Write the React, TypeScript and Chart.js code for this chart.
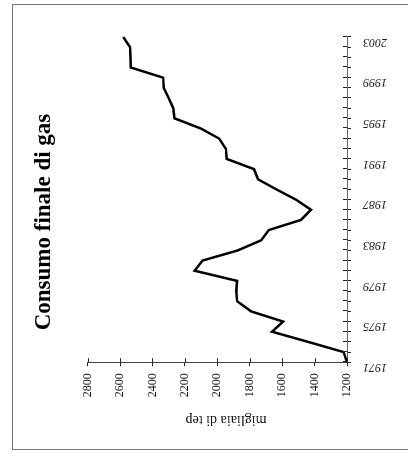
import React, { useEffect, useRef } from "react";
import { Chart, registerables } from "chart.js";

Chart.register(...registerables);

// ---- data ----
const YEARS: string[] = [
  "1971", "1972", "1973", "1974", "1975", "1976", "1977", "1978", "1979", "1980",
  "1981", "1982", "1983", "1984", "1985", "1986", "1987", "1988", "1989", "1990",
  "1991", "1992", "1993", "1994", "1995", "1996", "1997", "1998", "1999", "2000",
  "2001", "2002", "2003",
];
const CONSUMPTION: number[] = [
  1200, 1221, 1440, 1662, 1594, 1791, 1878, 1883, 1878, 2140,
  2092, 1874, 1729, 1683, 1484, 1422, 1515, 1635, 1749, 1774,
  1942, 1947, 1988, 2102, 2264, 2272, 2300, 2331, 2334, 2534,
  2536, 2538, 2580,
];
const VALUE_MIN = 1200;
const VALUE_MAX = 2800;
const VALUE_STEP = 200;
const YEAR_LABEL_EVERY = 4;
const TITLE = "Consumo finale di gas";
const AXIS_TITLE = "migliaia di tep";

// original (unrotated) canvas size
const W = 436;
const H = 394;

const SERIF = "'Liberation Serif', 'Times New Roman', serif";

const crossTicks = {
  id: "crossTicks",
  afterDatasetsDraw(chart: any) {
    const { ctx, chartArea, scales } = chart;
    ctx.save();
    ctx.strokeStyle = "#222";
    ctx.lineWidth = 1;
    const xs = scales.x;
    xs.ticks.forEach((_: any, i: number) => {
      const p = Math.round(xs.getPixelForTick(i)) + 0.5;
      ctx.beginPath();
      ctx.moveTo(p, chartArea.bottom);
      ctx.lineTo(p, chartArea.bottom - 4);
      ctx.stroke();
    });
    const ys = scales.y;
    ys.ticks.forEach((_: any, i: number) => {
      const p = Math.round(ys.getPixelForTick(i)) + 0.5;
      ctx.beginPath();
      ctx.moveTo(chartArea.left, p);
      ctx.lineTo(chartArea.left + 4, p);
      ctx.stroke();
    });
    ctx.restore();
  },
};

export default function App() {
  const ref = useRef<HTMLCanvasElement | null>(null);

  useEffect(() => {
    if (!ref.current) return;
    const chart = new Chart(ref.current, {
      type: "line",
      data: {
        labels: YEARS,
        datasets: [
          {
            data: CONSUMPTION,
            borderColor: "#000",
            borderWidth: 2.5,
            pointRadius: 0,
            tension: 0,
            fill: false,
          },
        ],
      },
      options: {
        animation: false,
        responsive: false,
        maintainAspectRatio: false,
        layout: { padding: { left: 0, right: 0, top: 0, bottom: 7 } },
        plugins: {
          legend: { display: false },
          tooltip: { enabled: false },
          title: {
            display: true,
            text: TITLE,
            color: "#000",
            font: { family: SERIF, size: 23, weight: "bold" },
            padding: { top: 18, bottom: 30 },
          },
        },
        scales: {
          x: {
            type: "category",
            grid: {
              display: true,
              drawOnChartArea: false,
              drawTicks: true,
              tickLength: 4,
              color: "#222",
            },
            border: { display: true, color: "#666", width: 1 },
            ticks: {
              autoSkip: false,
              minRotation: 90,
              maxRotation: 90,
              padding: 12,
              labelOffset: -5,
              color: "#111",
              font: { family: SERIF, size: 12, style: "italic" },
              callback: (_v: any, i: number) =>
                i % YEAR_LABEL_EVERY === 0 ? YEARS[i] : "",
            },
          },
          y: {
            type: "linear",
            position: "left",
            min: VALUE_MIN,
            max: VALUE_MAX,
            grid: {
              display: true,
              drawOnChartArea: false,
              drawTicks: true,
              tickLength: 4,
              color: "#222",
            },
            border: { display: true, color: "#444", width: 1 },
            ticks: {
              stepSize: VALUE_STEP,
              padding: 7,
              color: "#111",
              font: { family: SERIF, size: 12 },
              callback: (v: any) => String(v),
            },
            title: {
              display: true,
              text: AXIS_TITLE + "     ",
              color: "#111",
              font: { family: SERIF, size: 14 },
              padding: { top: 12, bottom: 7 },
            },
          },
          pad: {
            type: "linear",
            position: "right",
            display: true,
            grid: { display: false },
            border: { display: false },
            ticks: { display: false },
            afterFit: (s: any) => {
              s.width = 33;
            },
          },
        },
      } as any,
      plugins: [crossTicks],
    });
    return () => chart.destroy();
  }, []);

  return (
    <>
      <div
        style={{
          position: "absolute",
          left: 12,
          top: 4,
          width: 396,
          height: 446,
          boxSizing: "border-box",
          borderLeft: "1px solid #777",
          borderTop: "1px solid #777",
          borderBottom: "1px solid #777",
        }}
      />
      <div
        style={{
          position: "absolute",
          left: 12,
          top: 4,
          width: W,
          height: H,
          transformOrigin: "0 0",
          transform: `translate(0px, ${W}px) rotate(-90deg)`,
        }}
      >
        <canvas ref={ref} width={W} height={H} style={{ width: W, height: H, display: "block" }} />
      </div>
    </>
  );
}
